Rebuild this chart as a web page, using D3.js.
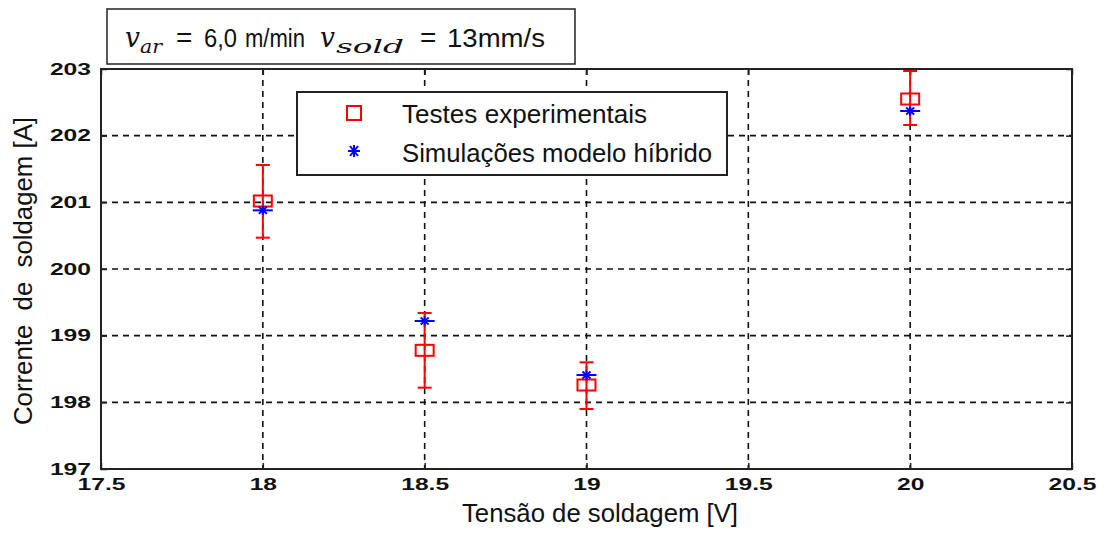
<!DOCTYPE html>
<html><head><meta charset="utf-8">
<script src="https://cdn.jsdelivr.net/npm/d3@7"></script>
<style>
html,body{margin:0;padding:0;background:#fff;}
svg{display:block;}
</style></head>
<body>
<svg id="chart" width="1107" height="535"></svg>
<script>
// ---- data ----
const xTickValues = [17.5, 18, 18.5, 19, 19.5, 20, 20.5];
const yTickValues = [197, 198, 199, 200, 201, 202, 203];
const voltages = [18, 18.5, 19, 20];
const expCurrent = [201.02, 198.78, 198.26, 202.55];
const expErrLow = [0.55, 0.56, 0.36, 0.39];
const expErrHigh = [0.54, 0.56, 0.34, 0.42];
const simCurrent = [200.88, 199.22, 198.41, 202.37];
const seriesNames = ["Testes experimentais", "Simulações modelo híbrido"];
const xLabel = "Tensão de soldagem [V]";
const yLabel = "Corrente  de  soldagem [A]";

// ---- layout ----
const L = 101, R = 1072, T = 69, B = 469;
const svg = d3.select("#chart");
const x = d3.scaleLinear().domain([17.5, 20.5]).range([L, R]);
const y = d3.scaleLinear().domain([197, 203]).range([B, T]);
const red = "#ff0000", blue = "#0000ff";
const tickFont = "'Liberation Sans', Arial, sans-serif";
const SX = 1.45;

// grid
const grid = svg.append("g");
grid.selectAll("line.gx").data(xTickValues.slice(1, -1)).join("line")
  .attr("x1", d => x(d)).attr("x2", d => x(d)).attr("y1", T).attr("y2", B)
  .attr("stroke", "#111").attr("stroke-width", 1.6).attr("stroke-dasharray", "6,5");
grid.selectAll("line.gy").data(yTickValues.slice(1, -1)).join("line")
  .attr("y1", d => y(d)).attr("y2", d => y(d)).attr("x1", L).attr("x2", R)
  .attr("stroke", "#111").attr("stroke-width", 1.6).attr("stroke-dasharray", "6,5");

// axes (inner ticks)
const gB = svg.append("g").attr("transform", `translate(0,${B})`)
  .call(d3.axisBottom(x).tickValues(xTickValues).tickSize(-6).tickSizeOuter(0).tickFormat(d => String(d)));
const gT = svg.append("g").attr("transform", `translate(0,${T})`)
  .call(d3.axisTop(x).tickValues(xTickValues).tickSize(-6).tickSizeOuter(0).tickFormat(""));
const gL = svg.append("g").attr("transform", `translate(${L},0)`)
  .call(d3.axisLeft(y).tickValues(yTickValues).tickSize(-6).tickSizeOuter(0).tickFormat(d => String(d)));
const gR = svg.append("g").attr("transform", `translate(${R},0)`)
  .call(d3.axisRight(y).tickValues(yTickValues).tickSize(-6).tickSizeOuter(0).tickFormat(""));
[gB, gT, gL, gR].forEach(g => {
  g.select(".domain").remove();
  g.selectAll(".tick line").attr("stroke", "#222").attr("stroke-width", 1.5);
});
gB.selectAll(".tick text").attr("y", 21).attr("dy", 0).attr("x", 0)
  .attr("transform", `scale(${SX},1)`)
  .attr("font-family", tickFont).attr("font-weight", "bold").attr("font-size", 17).attr("fill", "#111");
gL.selectAll(".tick text").attr("x", -10 / SX).attr("dy", "0.3em")
  .attr("transform", `scale(${SX},1)`)
  .attr("font-family", tickFont).attr("font-weight", "bold").attr("font-size", 17).attr("fill", "#111");

// frame
svg.append("rect").attr("x", L).attr("y", T).attr("width", R - L).attr("height", B - T)
  .attr("fill", "none").attr("stroke", "#222").attr("stroke-width", 2);

// error bars
const cap = 7;
const eb = svg.append("g").attr("stroke", red).attr("stroke-width", 2).attr("fill", "none");
voltages.forEach((v, i) => {
  const lo = expCurrent[i] - expErrLow[i], hi = expCurrent[i] + expErrHigh[i];
  eb.append("line").attr("x1", x(v)).attr("x2", x(v)).attr("y1", y(lo)).attr("y2", y(hi));
  eb.append("line").attr("x1", x(v) - cap).attr("x2", x(v) + cap).attr("y1", y(lo)).attr("y2", y(lo));
  eb.append("line").attr("x1", x(v) - cap).attr("x2", x(v) + cap).attr("y1", y(hi)).attr("y2", y(hi));
});

// squares
const sqW = 18, sqH = 11;
svg.append("g").selectAll("rect").data(voltages).join("rect")
  .attr("x", d => x(d) - sqW / 2).attr("y", (d, i) => y(expCurrent[i]) - sqH / 2)
  .attr("width", sqW).attr("height", sqH)
  .attr("fill", "none").attr("stroke", red).attr("stroke-width", 2);

// stars
function star(g, cx, cy, w, h) {
  const s = g.append("g").attr("stroke", blue).attr("stroke-width", 2).attr("fill", "none");
  s.append("line").attr("x1", cx - w / 2).attr("x2", cx + w / 2).attr("y1", cy).attr("y2", cy);
  s.append("line").attr("x1", cx).attr("x2", cx).attr("y1", cy - h / 2).attr("y2", cy + h / 2);
  s.append("line").attr("x1", cx - 4).attr("x2", cx + 4).attr("y1", cy - h / 2 + 1).attr("y2", cy + h / 2 - 1);
  s.append("line").attr("x1", cx - 4).attr("x2", cx + 4).attr("y1", cy + h / 2 - 1).attr("y2", cy - h / 2 + 1);
}
const stars = svg.append("g");
voltages.forEach((v, i) => star(stars, x(v), y(simCurrent[i]), 20, 9));

// legend
const lg = svg.append("g");
lg.append("rect").attr("x", 297).attr("y", 92).attr("width", 430).attr("height", 83)
  .attr("fill", "#fff").attr("stroke", "#222").attr("stroke-width", 2);
lg.append("rect").attr("x", 347).attr("y", 106).attr("width", 14).attr("height", 14)
  .attr("fill", "none").attr("stroke", red).attr("stroke-width", 2);
star(lg, 354, 151, 12, 12);
lg.append("text").attr("x", 402).attr("y", 123).text(seriesNames[0])
  .attr("font-family", tickFont).attr("font-size", 25).attr("fill", "#111")
  .attr("textLength", 245).attr("lengthAdjust", "spacingAndGlyphs");
lg.append("text").attr("x", 402).attr("y", 162).text(seriesNames[1])
  .attr("font-family", tickFont).attr("font-size", 25).attr("fill", "#111")
  .attr("textLength", 310).attr("lengthAdjust", "spacingAndGlyphs");

// axis titles
svg.append("text").attr("x", 600).attr("y", 522).attr("text-anchor", "middle").text(xLabel)
  .attr("font-family", tickFont).attr("font-size", 25).attr("fill", "#111")
  .attr("textLength", 276).attr("lengthAdjust", "spacingAndGlyphs");
svg.append("text").attr("transform", "translate(32,271) rotate(-90)").attr("text-anchor", "middle")
  .style("white-space", "pre").text(yLabel)
  .attr("font-family", tickFont).attr("font-size", 25).attr("fill", "#111")
  .attr("textLength", 308).attr("lengthAdjust", "spacingAndGlyphs");

// title box
const tb = svg.append("g");
tb.append("rect").attr("x", 107).attr("y", 9).attr("width", 468).attr("height", 55)
  .attr("fill", "#fff").attr("stroke", "#222").attr("stroke-width", 1.5);
const serifI = "'DejaVu Serif', 'Liberation Serif', serif";
const sans = "'Liberation Sans', Arial, sans-serif";
function piece(txt, xx, yy, fam, size, italic, w) {
  const t = tb.append("text").attr("x", xx).attr("y", yy).text(txt)
    .attr("font-family", fam).attr("font-size", size).attr("font-style", italic ? "italic" : "normal")
    .attr("fill", "#111");
  if (w) t.attr("textLength", w).attr("lengthAdjust", "spacingAndGlyphs");
}
piece("v", 125, 47, serifI, 27, true, 15);
piece("ar", 140, 53, serifI, 19, true, 22);
piece("=", 176, 47, sans, 28, false, 0);
piece("6,0", 204, 47, sans, 26, false, 33);
piece("m/min", 245, 47, sans, 26, false, 60);
piece("v", 320, 47, serifI, 27, true, 15);
piece("sold", 336, 53, serifI, 19, true, 68);
piece("=", 420, 47, sans, 28, false, 0);
piece("13mm/s", 447, 47, sans, 26, false, 98);
</script>
</body></html>
